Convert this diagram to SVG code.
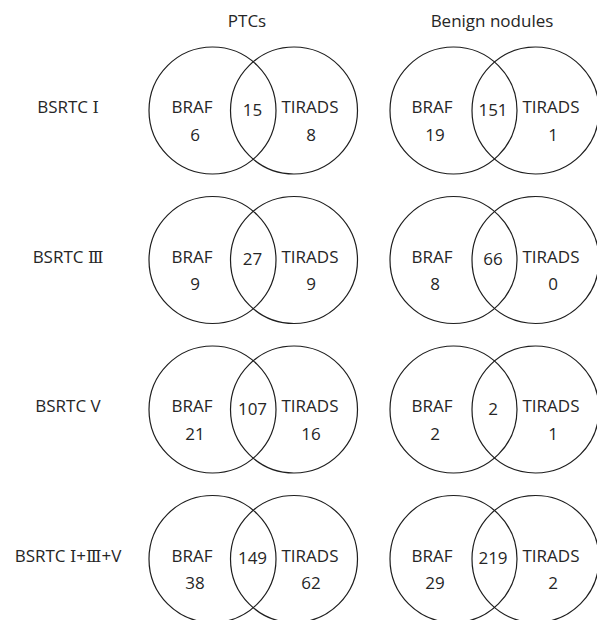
<svg xmlns="http://www.w3.org/2000/svg" width="597" height="620" viewBox="0 0 597 620">
<style>
  text { font-family: "Open Sans", "Noto Sans CJK SC", sans-serif; font-size: 17px; fill: #262626; text-anchor: middle; }
  .c { fill: none; stroke: #1e1e1e; stroke-width: 1.2; }
  .rn { font-family: "DejaVu Serif", "Liberation Serif", "Noto Sans CJK SC", serif; font-size: 16px; }
</style>
<rect width="597" height="620" fill="#ffffff"/>
<g id="headers">
  <text x="247" y="27">PTCs</text>
  <text x="492" y="27">Benign nodules</text>
</g>
<g id="row-labels">
  <text x="68" y="113">BSRTC <tspan class="rn">Ⅰ</tspan></text>
  <text x="68" y="262.5">BSRTC <tspan class="rn">Ⅲ</tspan></text>
  <text x="68" y="412">BSRTC V</text>
  <text x="68" y="561.5">BSRTC <tspan class="rn">Ⅰ</tspan>+<tspan class="rn">Ⅲ</tspan>+V</text>
</g>
<g id="ptc-1">
  <circle class="c" cx="212.5" cy="110.5" r="63.5"/>
  <circle class="c" cx="294" cy="110.5" r="63.5"/>
  <text x="192" y="113">BRAF</text><text x="195" y="140.5">6</text>
  <text x="252.5" y="115.5">15</text>
  <text x="310" y="113">TIRADS</text><text x="311" y="140.5">8</text>
</g>
<g id="benign-1">
  <circle class="c" cx="453.5" cy="110.5" r="63.5"/>
  <circle class="c" cx="535.5" cy="110.5" r="63.5"/>
  <text x="432" y="113">BRAF</text><text x="435" y="140.5">19</text>
  <text x="493" y="115.5">151</text>
  <text x="551" y="113">TIRADS</text><text x="553" y="140.5">1</text>
</g>
<g id="ptc-2">
  <circle class="c" cx="212.5" cy="260" r="63.5"/>
  <circle class="c" cx="294" cy="260" r="63.5"/>
  <text x="192" y="262.5">BRAF</text><text x="195" y="290">9</text>
  <text x="252.5" y="265">27</text>
  <text x="310" y="262.5">TIRADS</text><text x="311" y="290">9</text>
</g>
<g id="benign-2">
  <circle class="c" cx="453.5" cy="260" r="63.5"/>
  <circle class="c" cx="535.5" cy="260" r="63.5"/>
  <text x="432" y="262.5">BRAF</text><text x="435" y="290">8</text>
  <text x="493" y="265">66</text>
  <text x="551" y="262.5">TIRADS</text><text x="553" y="290">0</text>
</g>
<g id="ptc-3">
  <circle class="c" cx="212.5" cy="409.5" r="63.5"/>
  <circle class="c" cx="294" cy="409.5" r="63.5"/>
  <text x="192" y="412">BRAF</text><text x="195" y="439.5">21</text>
  <text x="252.5" y="414.5">107</text>
  <text x="310" y="412">TIRADS</text><text x="311" y="439.5">16</text>
</g>
<g id="benign-3">
  <circle class="c" cx="453.5" cy="409.5" r="63.5"/>
  <circle class="c" cx="535.5" cy="409.5" r="63.5"/>
  <text x="432" y="412">BRAF</text><text x="435" y="439.5">2</text>
  <text x="493" y="414.5">2</text>
  <text x="551" y="412">TIRADS</text><text x="553" y="439.5">1</text>
</g>
<g id="ptc-4">
  <circle class="c" cx="212.5" cy="559" r="63.5"/>
  <circle class="c" cx="294" cy="559" r="63.5"/>
  <text x="192" y="561.5">BRAF</text><text x="195" y="589">38</text>
  <text x="252.5" y="564">149</text>
  <text x="310" y="561.5">TIRADS</text><text x="311" y="589">62</text>
</g>
<g id="benign-4">
  <circle class="c" cx="453.5" cy="559" r="63.5"/>
  <circle class="c" cx="535.5" cy="559" r="63.5"/>
  <text x="432" y="561.5">BRAF</text><text x="435" y="589">29</text>
  <text x="493" y="564">219</text>
  <text x="551" y="561.5">TIRADS</text><text x="553" y="589">2</text>
</g>
</svg>
